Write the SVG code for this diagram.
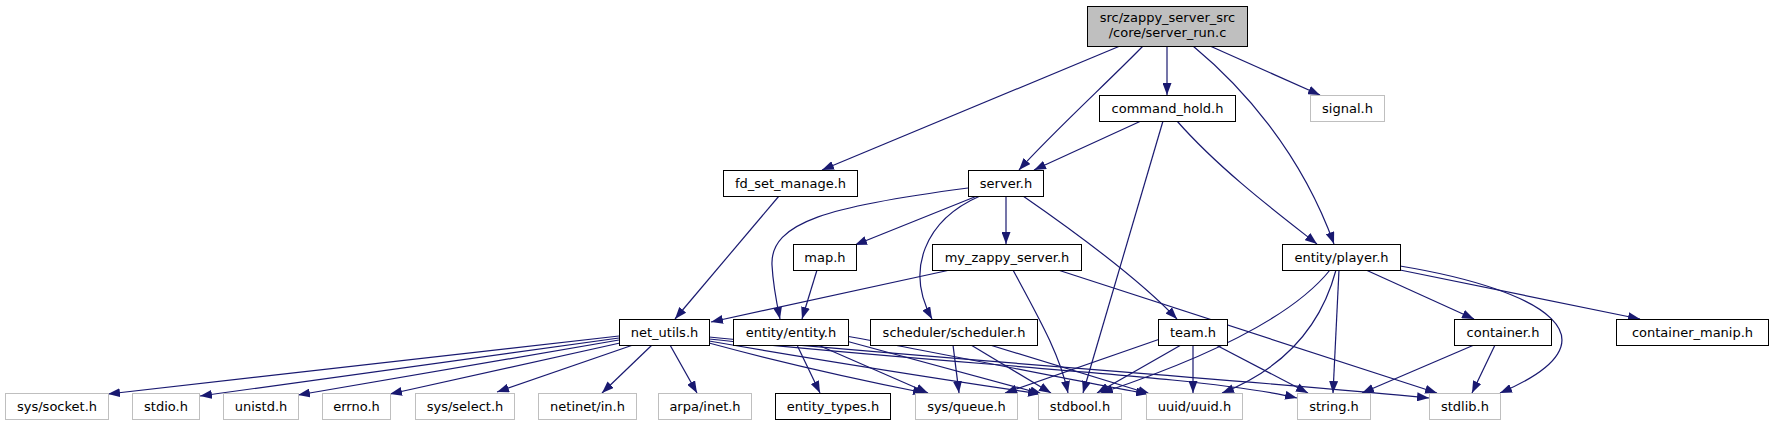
<svg xmlns="http://www.w3.org/2000/svg" width="1773" height="425" viewBox="0 0 1773 425">
<style>
.e{fill:none;stroke:#191970;stroke-width:1.2;marker-end:url(#a)}
.n rect{fill:#fff;stroke:#000;stroke-width:1}
.g rect{fill:#fff;stroke:#bfbfbf;stroke-width:1}
text{font-family:"DejaVu Sans","Liberation Sans",sans-serif;font-size:13px;text-anchor:middle;fill:#000}
</style>
<defs>
<marker id="a" markerWidth="12" markerHeight="9" refX="12" refY="4.5" orient="auto" markerUnits="userSpaceOnUse"><path d="M0,0 L12,4.5 L0,9 z" fill="#191970"/></marker>
</defs>
<rect width="1773" height="425" fill="#fff"/>
<g id="edges">
<path class="e" d="M1120,46 L822,170"/>
<path class="e" d="M1143,46 C1110,80 1050,135 1019,170"/>
<path class="e" d="M1167,46 L1167,95"/>
<path class="e" d="M1193,46 C1240,85 1300,150 1334,244"/>
<path class="e" d="M1210,46 L1320,95"/>
<path class="e" d="M1141,121 L1034,170"/>
<path class="e" d="M1163,121 L1083,393"/>
<path class="e" d="M1177,121 C1220,170 1280,215 1317,244"/>
<path class="e" d="M779,196 L675,319"/>
<path class="e" d="M968,188 C830,206 770,222 772,265 C773,285 776,300 780,319"/>
<path class="e" d="M977,196 L855,245"/>
<path class="e" d="M980,196 C925,220 905,270 932,319"/>
<path class="e" d="M1006,196 L1006,244"/>
<path class="e" d="M1023,196 C1075,232 1140,280 1177,319"/>
<path class="e" d="M817,270 L802,319"/>
<path class="e" d="M950,270 L711,322"/>
<path class="e" d="M1013,270 C1040,320 1060,355 1068,393"/>
<path class="e" d="M1058,270 L1437,393"/>
<path class="e" d="M1330,270 C1290,320 1200,360 1101,393"/>
<path class="e" d="M1336,270 C1320,330 1280,370 1222,393"/>
<path class="e" d="M1339,270 L1333,393"/>
<path class="e" d="M1366,270 L1474,319"/>
<path class="e" d="M1400,266 C1545,290 1625,340 1500,393"/>
<path class="e" d="M1400,270 L1640,319"/>
<path class="e" d="M619,336 L108,394"/>
<path class="e" d="M619,338 L200,396"/>
<path class="e" d="M619,340 L298,395"/>
<path class="e" d="M620,343 L390,394"/>
<path class="e" d="M633,345 L497,392"/>
<path class="e" d="M652,345 L602,393"/>
<path class="e" d="M670,345 L697,393"/>
<path class="e" d="M709,343 C790,365 870,382 925,393"/>
<path class="e" d="M709,341 C830,362 960,382 1040,394"/>
<path class="e" d="M709,339 C950,365 1200,375 1297,398"/>
<path class="e" d="M709,337 C950,360 1250,380 1429,398"/>
<path class="e" d="M797,345 L820,393"/>
<path class="e" d="M818,345 L928,393"/>
<path class="e" d="M846,341 L1042,394"/>
<path class="e" d="M846,336 C950,355 1070,380 1148,394"/>
<path class="e" d="M953,345 L959,393"/>
<path class="e" d="M971,345 L1051,393"/>
<path class="e" d="M990,345 L1150,394"/>
<path class="e" d="M1160,339 L1005,393"/>
<path class="e" d="M1181,345 L1097,393"/>
<path class="e" d="M1193,345 L1193,393"/>
<path class="e" d="M1216,345 L1308,393"/>
<path class="e" d="M1474,345 L1362,393"/>
<path class="e" d="M1495,345 L1472,393"/>
</g>
<g id="root"><rect x="1087.5" y="6.5" width="160" height="40" fill="#bfbfbf" stroke="#000"/><text x="1167.5" y="22">src/zappy_server_src</text><text x="1167.5" y="37">/core/server_run.c</text></g>
<g id="command_hold" class="n"><rect x="1099.5" y="95.5" width="136" height="26"/><text x="1167.5" y="112.5">command_hold.h</text></g>
<g id="signal" class="g"><rect x="1310.5" y="95.5" width="74" height="26"/><text x="1347.5" y="112.5">signal.h</text></g>
<g id="fd_set_manage" class="n"><rect x="723.5" y="170.5" width="134" height="26"/><text x="790.5" y="187.5">fd_set_manage.h</text></g>
<g id="server" class="n"><rect x="968.5" y="170.5" width="75" height="26"/><text x="1006" y="187.5">server.h</text></g>
<g id="map" class="n"><rect x="793.5" y="244.5" width="63" height="26"/><text x="825" y="261.5">map.h</text></g>
<g id="my_zappy_server" class="n"><rect x="932.5" y="244.5" width="149" height="26"/><text x="1007" y="261.5">my_zappy_server.h</text></g>
<g id="player" class="n"><rect x="1282.5" y="244.5" width="118" height="26"/><text x="1341.5" y="261.5">entity/player.h</text></g>
<g id="net_utils" class="n"><rect x="619.5" y="319.5" width="90" height="26"/><text x="664.5" y="336.5">net_utils.h</text></g>
<g id="entity" class="n"><rect x="733.5" y="319.5" width="115" height="26"/><text x="791" y="336.5">entity/entity.h</text></g>
<g id="scheduler" class="n"><rect x="870.5" y="319.5" width="167" height="26"/><text x="954" y="336.5">scheduler/scheduler.h</text></g>
<g id="team" class="n"><rect x="1158.5" y="319.5" width="69" height="26"/><text x="1193" y="336.5">team.h</text></g>
<g id="container" class="n"><rect x="1454.5" y="319.5" width="97" height="26"/><text x="1503" y="336.5">container.h</text></g>
<g id="container_manip" class="n"><rect x="1616.5" y="319.5" width="152" height="26"/><text x="1692.5" y="336.5">container_manip.h</text></g>
<g id="sys_socket" class="g"><rect x="5.5" y="393.5" width="103" height="26"/><text x="57" y="410.5">sys/socket.h</text></g>
<g id="stdio" class="g"><rect x="132.5" y="393.5" width="67" height="26"/><text x="166" y="410.5">stdio.h</text></g>
<g id="unistd" class="g"><rect x="223.5" y="393.5" width="75" height="26"/><text x="261" y="410.5">unistd.h</text></g>
<g id="errno" class="g"><rect x="322.5" y="393.5" width="68" height="26"/><text x="356.5" y="410.5">errno.h</text></g>
<g id="sys_select" class="g"><rect x="415.5" y="393.5" width="99" height="26"/><text x="465" y="410.5">sys/select.h</text></g>
<g id="netinet_in" class="g"><rect x="538.5" y="393.5" width="98" height="26"/><text x="587.5" y="410.5">netinet/in.h</text></g>
<g id="arpa_inet" class="g"><rect x="658.5" y="393.5" width="93" height="26"/><text x="705" y="410.5">arpa/inet.h</text></g>
<g id="entity_types" class="n"><rect x="775.5" y="393.5" width="115" height="26"/><text x="833" y="410.5">entity_types.h</text></g>
<g id="sys_queue" class="g"><rect x="915.5" y="393.5" width="102" height="26"/><text x="966.5" y="410.5">sys/queue.h</text></g>
<g id="stdbool" class="g"><rect x="1038.5" y="393.5" width="83" height="26"/><text x="1080" y="410.5">stdbool.h</text></g>
<g id="uuid" class="g"><rect x="1146.5" y="393.5" width="96" height="26"/><text x="1194.5" y="410.5">uuid/uuid.h</text></g>
<g id="string" class="g"><rect x="1297.5" y="393.5" width="73" height="26"/><text x="1334" y="410.5">string.h</text></g>
<g id="stdlib" class="g"><rect x="1429.5" y="393.5" width="71" height="26"/><text x="1465" y="410.5">stdlib.h</text></g>
</svg>
